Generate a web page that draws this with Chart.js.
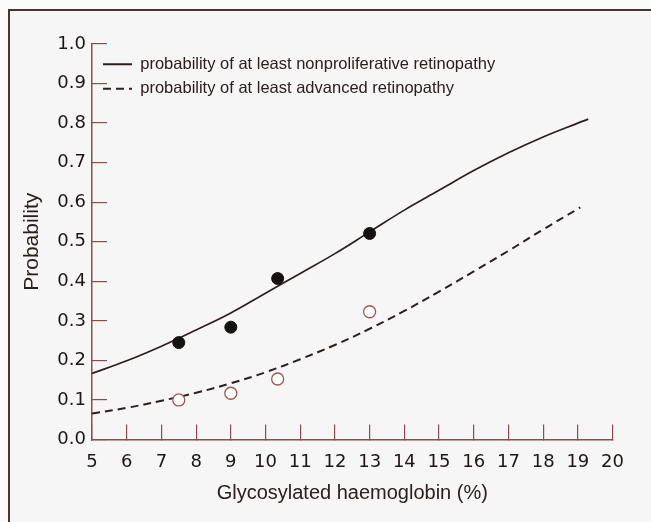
<!DOCTYPE html>
<html>
<head>
<meta charset="utf-8">
<script src="https://cdn.jsdelivr.net/npm/chart.js@4"></script>
<style>
  html, body { margin: 0; padding: 0; background: #fbfbfb; }
  #wrap { position: relative; width: 651px; height: 522px; overflow: hidden; }
  #frame { position: absolute; left: 8px; top: 9px; width: 660px; height: 530px;
           border-left: 2px solid #4a3430; border-top: 2px solid #4a3430; background: #f6f6f6; }
  canvas { position: absolute; left: 0; top: 0; }
</style>
</head>
<body>
<div id="wrap">
  <div id="frame"></div>
  <canvas id="c" width="651" height="522"></canvas>
</div>
<script>
// Curve readings (x = glycosylated haemoglobin %, y = probability)
const curveX = [5, 6, 7, 8, 9, 10, 11, 12, 13, 14, 15, 16, 17, 18, 19, 19.3];
const nonprolifY = [0.167, 0.199, 0.236, 0.277, 0.32, 0.37, 0.42, 0.47, 0.525, 0.58, 0.63, 0.68, 0.725, 0.765, 0.80, 0.81];
const advancedX = [5, 6, 7, 8, 9, 10, 11, 12, 13, 14, 15, 16, 17, 18, 19, 19.07];
const advancedY = [0.066, 0.080, 0.098, 0.118, 0.142, 0.170, 0.203, 0.239, 0.280, 0.325, 0.374, 0.425, 0.477, 0.531, 0.583, 0.587];
// Observed points
const obsX = [7.5, 9, 10.35, 13];
const obsNonprolif = [0.245, 0.284, 0.407, 0.521];
const obsAdvanced = [0.100, 0.117, 0.153, 0.323];
const xTicks = [5, 6, 7, 8, 9, 10, 11, 12, 13, 14, 15, 16, 17, 18, 19, 20];
const yTicks = [0, 0.1, 0.2, 0.3, 0.4, 0.5, 0.6, 0.7, 0.8, 0.9, 1.0];
const legendLabels = ['probability of at least nonproliferative retinopathy', 'probability of at least advanced retinopathy'];

const pts = (xs, ys) => xs.map((x, i) => ({ x, y: ys[i] }));
const axisColor = '#8a4f4a';
const inkColor = '#2b201e';
const fontFam = '"Liberation Sans", Arial, sans-serif';
const tickFam = '"DejaVu Sans", "Liberation Sans", sans-serif';

const legendPlacer = {
  id: 'legendPlacer',
  afterLayout(chart) {
    const lg = chart.legend;
    if (!lg) return;
    const h = lg.height;
    lg.top = 48;
    lg.bottom = 48 + h;
    lg.left = 95;
  }
};

new Chart(document.getElementById('c'), {
  type: 'line',
  data: {
    datasets: [
      { label: legendLabels[0], data: pts(curveX, nonprolifY), borderColor: inkColor, borderWidth: 1.7,
        pointRadius: 0, tension: 0.4, fill: false, order: 3 },
      { label: legendLabels[1], data: pts(advancedX, advancedY), borderColor: inkColor, borderWidth: 2,
        borderDash: [8, 5], pointRadius: 0, tension: 0.4, fill: false, order: 3 },
      { label: 'obs1', data: pts(obsX, obsNonprolif), showLine: false, pointRadius: 6,
        pointBackgroundColor: '#161210', pointBorderColor: '#161210', pointBorderWidth: 1, order: 1 },
      { label: 'obs2', data: pts(obsX, obsAdvanced), showLine: false, pointRadius: 6,
        pointBackgroundColor: '#ffffff', pointBorderColor: '#9a5a52', pointBorderWidth: 1.3, order: 1 }
    ]
  },
  plugins: [legendPlacer],
  options: {
    responsive: false,
    animation: false,
    layout: { padding: { left: 0, right: 29, top: 44, bottom: 0 } },
    plugins: {
      tooltip: { enabled: false },
      legend: {
        position: 'chartArea',
        align: 'start',
        labels: {
          usePointStyle: true,
          pointStyle: 'line',
          pointStyleWidth: 29,
          boxWidth: 29,
          boxHeight: 10,
          padding: 8,
          color: inkColor,
          font: { family: fontFam, size: 16.5 },
          generateLabels: (chart) => chart.data.datasets.slice(0, 2).map((ds, i) => ({
            text: ds.label, datasetIndex: i, pointStyle: 'line', lineWidth: 1.8,
            strokeStyle: inkColor, fillStyle: inkColor, fontColor: inkColor,
            lineDash: ds.borderDash || [], hidden: false
          }))
        }
      }
    },
    scales: {
      x: {
        type: 'linear', min: 5, max: 20,
        afterBuildTicks: (s) => { s.ticks = xTicks.map(v => ({ value: v })); },
        afterFit: (s) => { s.height = 82.5; },
        border: { display: true, color: axisColor, width: 1.5 },
        grid: { drawOnChartArea: false, drawTicks: true, tickLength: -15, color: axisColor, lineWidth: 1.2 },
        ticks: { color: '#1e1614', font: { family: tickFam, size: 18 }, padding: 27, maxRotation: 0, autoSkip: false },
        title: { display: true, text: 'Glycosylated haemoglobin (%)', color: inkColor,
                 font: { family: fontFam, size: 20 }, padding: { top: 0, bottom: 17 } }
      },
      y: {
        type: 'linear', min: 0, max: 1,
        afterBuildTicks: (s) => { s.ticks = yTicks.map(v => ({ value: v })); },
        afterFit: (s) => { s.width = 92; },
        border: { display: true, color: axisColor, width: 1.5 },
        grid: { drawOnChartArea: false, drawTicks: true, tickLength: -15, color: axisColor, lineWidth: 1.2 },
        ticks: { color: '#1e1614', font: { family: tickFam, size: 18 }, padding: 21,
                 callback: (v) => Number(v).toFixed(1) },
        title: { display: true, text: 'Probability', color: inkColor,
                 font: { family: fontFam, size: 21 }, padding: { top: 20, bottom: 0 } }
      }
    }
  }
});
</script>
</body>
</html>
